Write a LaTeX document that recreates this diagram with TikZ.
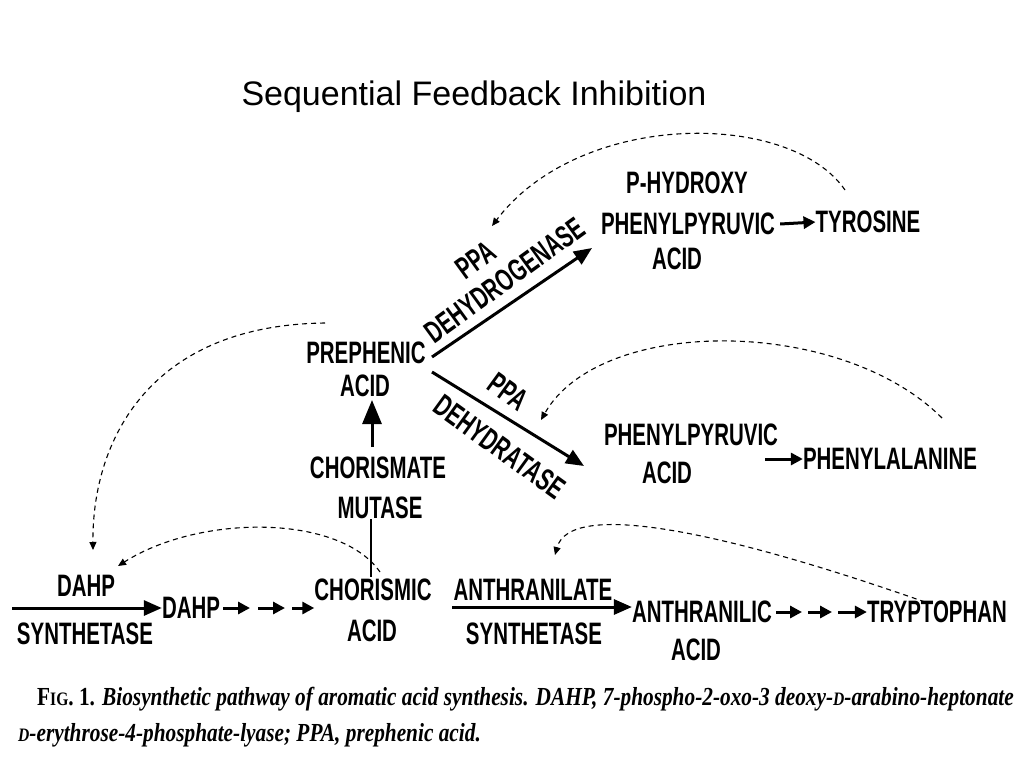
\documentclass[tikz,border=0pt]{standalone}
\usepackage{fontspec}
\setmainfont{Liberation Serif}
\newfontfamily\labfont[FakeStretch=0.66]{Liberation Sans}
\newfontfamily\titlefont{Liberation Sans}
\newfontfamily\capfont[FakeStretch=0.82]{Liberation Serif}
\usetikzlibrary{arrows.meta}
\tikzset{
  lab/.style={font=\labfont\bfseries\fontsize{31}{31}\selectfont, inner sep=0pt, anchor=center},
  mainarr/.style={line width=3pt, -{Triangle[length=18pt,width=15pt]}},
  bigarr/.style={line width=3pt, -{Triangle[length=24pt,width=19pt]}},
  smallarr/.style={line width=3pt, -{Triangle[length=12pt,width=12pt]}},
  fb/.style={line width=1.1pt, dash pattern=on 5pt off 4pt, -{Triangle[length=8pt,width=7pt]}},
  capt/.style={font=\capfont\bfseries\itshape\fontsize{26}{26}\selectfont, inner sep=0pt},
}
\newcommand{\smD}{{\fontsize{19}{19}\selectfont D}}
\begin{document}
\begin{tikzpicture}[x=1pt,y=-1pt]
\useasboundingbox[fill=white] (0,0) rectangle (1024,768);
% title
\node[font=\titlefont\fontsize{34}{34}\selectfont, inner sep=0pt] (title) at (474,97) {Sequential Feedback Inhibition};

% texts
\node[lab] (dsyn1) at (86,586) {DAHP};
\node[lab] (dsyn2) at (85,634) {SYNTHETASE};
\node[lab] (dahp) at (191,608) {DAHP};
\node[lab] (chor1) at (373,590) {CHORISMIC};
\node[lab] (chor2) at (372,631) {ACID};
\node[lab] (mut1) at (378,468) {CHORISMATE};
\node[lab] (mut2) at (380,508) {MUTASE};
\node[lab] (preph1) at (366,353) {PREPHENIC};
\node[lab] (preph2) at (365,386) {ACID};
\node[lab, rotate=36] (dhg1) at (476,260) {PPA};
\node[lab, rotate=36] (dhg2) at (505,280) {DEHYDROGENASE};
\node[lab, rotate=-36] (dht1) at (508,392) {PPA};
\node[lab, rotate=-36] (dht2) at (500,447) {DEHYDRATASE};
\node[lab] (hpp1) at (687,183) {P-HYDROXY};
\node[lab] (hpp2) at (688,224) {PHENYLPYRUVIC};
\node[lab] (hpp3) at (677,259) {ACID};
\node[lab] (tyr) at (868,222) {TYROSINE};
\node[lab] (pp1) at (691,435) {PHENYLPYRUVIC};
\node[lab] (pp2) at (667,473) {ACID};
\node[lab] (phe) at (890,459) {PHENYLALANINE};
\node[lab] (asyn1) at (533,590) {ANTHRANILATE};
\node[lab] (asyn2) at (534,634) {SYNTHETASE};
\node[lab] (ant1) at (702,612) {ANTHRANILIC};
\node[lab] (ant2) at (696,650) {ACID};
\node[lab] (trp) at (937,612) {TRYPTOPHAN};

% main arrows
\coordinate (dsynS) at (12,608);
\draw[mainarr] (dsynS) -- (dahp.west);
\coordinate (dA1) at (250,608); \coordinate (dA2) at (258,608);
\coordinate (dA3) at (285,608); \coordinate (dA4) at (292,608);
\draw[smallarr] (dahp.east) ++(3,0) -- (dA1);
\draw[smallarr] (dA2) -- (dA3);
\draw[smallarr] (dA4) -- (chor1.west |- dA4);
\draw[line width=2.5pt] (chor1.north -| 371,0) ++(0,-2) coordinate (cm1) -- (mut2.south -| 371,0) coordinate (cm2);
\coordinate (mutTop) at (372,447);
\coordinate (prephBot) at (372,400);
\draw[bigarr] (mutTop) -- (prephBot);
\coordinate (prA) at (432,357); \coordinate (hppA) at (592,248);
\draw[mainarr] (prA) -- (hppA);
\coordinate (prB) at (432,372); \coordinate (ppA) at (584,466);
\draw[mainarr] (prB) -- (ppA);
\draw[smallarr] (hpp2.east) ++(5,0) -- (tyr.west);
\coordinate (ppOut) at (765,459);
\draw[smallarr] (ppOut) -- (phe.west);
\coordinate (chOut) at (452,607);
\draw[mainarr] (chOut) -- (ant1.west |- chOut);
\coordinate (tA1) at (802,612); \coordinate (tA2) at (808,612);
\coordinate (tA3) at (832,612); \coordinate (tA4) at (838,612);
\draw[smallarr] (ant1.east) ++(4,0) -- (tA1);
\draw[smallarr] (tA2) -- (tA3);
\draw[smallarr] (tA4) -- (trp.west);

% feedback curves
\coordinate (f1s) at (845,190); \coordinate (f1e) at (492,226);
\draw[fb] (f1s) .. controls (790,110) and (580,110) .. (f1e);
\coordinate (f2s) at (942,418); \coordinate (f2e) at (541,420);
\draw[fb] (f2s) .. controls (840,316) and (600,316) .. (f2e);
\coordinate (f3s) at (325,323); \coordinate (f3e) at (93,550);
\draw[fb] (f3s) .. controls (150,325) and (92,440) .. (f3e);
\coordinate (f4s) at (380,572); \coordinate (f4e) at (118,566);
\draw[fb] (f4s) .. controls (340,514) and (200,514) .. (f4e);
\coordinate (f5s) at (925,602); \coordinate (f5e) at (555,555);
\draw[fb] (f5s) .. controls (720,530) and (570,500) .. (f5e);

% caption
\node[capt, anchor=base west] (cap1) at (37,705) {{\upshape F\fontsize{19}{19}\selectfont IG\fontsize{26}{26}\selectfont. 1.} Biosynthetic pathway of aromatic acid synthesis. DAHP, 7-phospho-2-oxo-3 deoxy-\smD-arabino-heptonate};
\node[capt, anchor=base west] (cap2) at (18,741) {\smD-erythrose-4-phosphate-lyase; PPA, prephenic acid.};
\end{tikzpicture}
\end{document}
